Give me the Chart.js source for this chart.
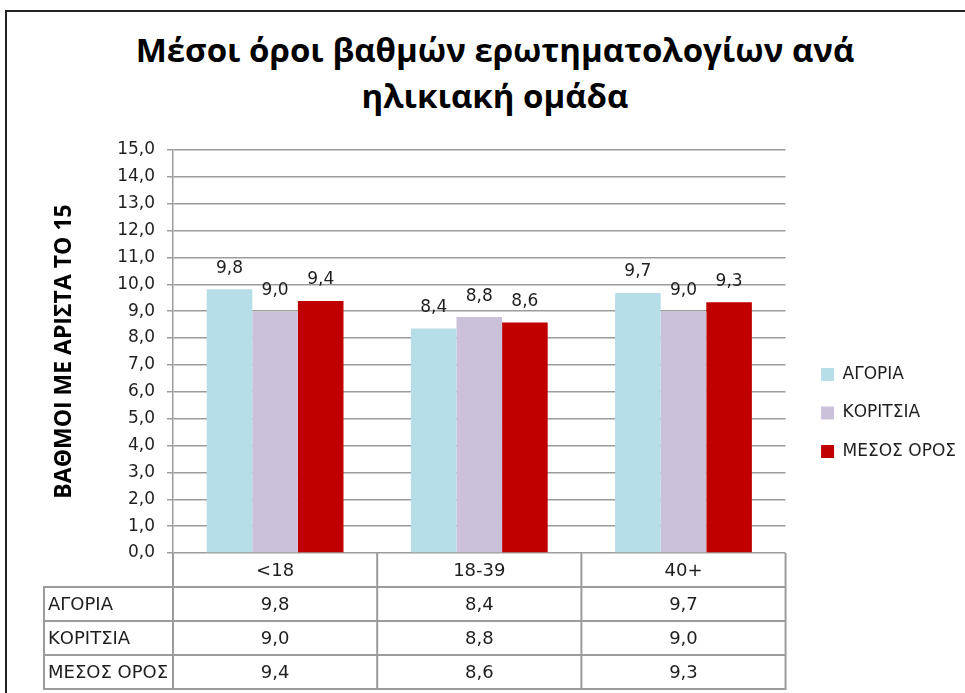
<!DOCTYPE html>
<html lang="el">
<head>
  <meta charset="UTF-8">
  <title>Μέσοι όροι βαθμών ερωτηματολογίων ανά ηλικιακή ομάδα</title>
  <script src="https://cdn.jsdelivr.net/npm/chart.js"></script>
  <style>
    body {
      margin: 0;
      background: #fff;
      width: 965px;
      height: 693px;
      overflow: hidden;
      position: relative;
      font-family: "DejaVu Sans", sans-serif;
    }
    #frame {
      position: absolute;
      left: 5px;
      top: 10px;
      width: 1000px;
      height: 700px;
      border-left: 2px solid #222;
      border-top: 2px solid #222;
    }
    #title {
      position: absolute;
      left: 0;
      top: 27px;
      width: 990px;
      text-align: center;
      font-family: "Open Sans", sans-serif;
      font-weight: 700;
      font-size: 33px;
      line-height: 46px;
      color: #000;
    }
    #chart-box {
      position: absolute;
      left: 0;
      top: 125px;
      width: 965px;
      height: 568px;
    }
  </style>
</head>
<body>
  <div id="frame"></div>
  <div id="title">Μέσοι όροι βαθμών ερωτηματολογίων ανά<br>ηλικιακή ομάδα</div>
  <div id="chart-box"><canvas id="grades-chart"></canvas></div>
  <script>
    // δεδομένα
    const categories = ['<18', '18-39', '40+'];
    const seriesNames = ['ΑΓΟΡΙΑ', 'ΚΟΡΙΤΣΙΑ', 'ΜΕΣΟΣ ΟΡΟΣ'];
    const boys = [9.82, 8.36, 9.68];
    const girls = [8.98, 8.78, 8.99];
    const average = [9.38, 8.58, 9.33];
    const yMin = 0;
    const yMax = 15;
    const yStep = 1;
    const yTitle = 'ΒΑΘΜΟΙ ΜΕ ΑΡΙΣΤΑ ΤΟ 15';

    const colors = ['#b7dde8', '#ccc1da', '#c00000'];
    const textColor = '#1e1e1e';
    const lineColor = '#9c9c9c';

    const fmt = v => v.toFixed(1).replace('.', ',');

    // τιμές πάνω από τις μπάρες
    const barLabels = {
      id: 'barLabels',
      afterDatasetsDraw(chart) {
        const ctx = chart.ctx;
        ctx.save();
        ctx.font = '17px "DejaVu Sans"';
        ctx.fillStyle = textColor;
        ctx.textAlign = 'center';
        ctx.textBaseline = 'middle';
        chart.data.datasets.forEach((ds, i) => {
          chart.getDatasetMeta(i).data.forEach((bar, j) => {
            ctx.fillText(fmt(ds.data[j]), bar.x, bar.y - 21);
          });
        });
        ctx.restore();
      }
    };

    // μετακίνηση του υπομνήματος λίγο δεξιά, όπως στο Excel
    const legendShift = {
      id: 'legendShift',
      afterLayout(chart) {
        if (chart.legend) {
          chart.legend.left += 14;
          chart.legend.right += 14;
        }
      }
    };

    // πίνακας δεδομένων κάτω από το γράφημα
    const dataTable = {
      id: 'dataTable',
      afterDraw(chart) {
        const {ctx, chartArea: area, scales: {x}} = chart;
        const rowH = 34;
        const colW = (area.right - area.left) / categories.length;
        const tableLeft = area.left - 129;
        const top = area.bottom;
        const bottom = top + rowH * (seriesNames.length + 1);

        ctx.save();
        ctx.strokeStyle = lineColor;
        ctx.lineWidth = 2;
        ctx.beginPath();
        for (let c = 0; c <= categories.length; c++) {
          const xx = area.left + c * colW;
          ctx.moveTo(xx, top);
          ctx.lineTo(xx, bottom);
        }
        ctx.moveTo(tableLeft, top + rowH);
        ctx.lineTo(tableLeft, bottom);
        for (let r = 1; r <= seriesNames.length + 1; r++) {
          ctx.moveTo(tableLeft - 1, top + r * rowH);
          ctx.lineTo(area.right + 1, top + r * rowH);
        }
        ctx.stroke();

        ctx.fillStyle = textColor;
        ctx.font = '18px "DejaVu Sans"';
        ctx.textBaseline = 'middle';
        ctx.textAlign = 'center';
        categories.forEach((cat, i) => {
          ctx.fillText(cat, x.getPixelForValue(i), top + rowH / 2 + 1);
        });
        chart.data.datasets.forEach((ds, r) => {
          const cy = top + rowH * (r + 1) + rowH / 2 + 1;
          ctx.textAlign = 'left';
          ctx.fillText(ds.label, tableLeft + 4, cy);
          ctx.textAlign = 'center';
          ds.data.forEach((v, i) => ctx.fillText(fmt(v), x.getPixelForValue(i), cy));
        });
        ctx.restore();
      }
    };

    new Chart(document.getElementById('grades-chart'), {
      type: 'bar',
      data: {
        labels: categories,
        datasets: [
          { label: seriesNames[0], data: boys, backgroundColor: colors[0] },
          { label: seriesNames[1], data: girls, backgroundColor: colors[1] },
          { label: seriesNames[2], data: average, backgroundColor: colors[2] }
        ]
      },
      options: {
        responsive: true,
        maintainAspectRatio: false,
        animation: false,
        datasets: { bar: { categoryPercentage: 0.67, barPercentage: 1, borderWidth: 0 } },
        layout: { padding: { left: 45, top: 25, right: 13, bottom: 17 } },
        plugins: {
          title: { display: false },
          tooltip: { enabled: false },
          legend: {
            position: 'right',
            align: 'center',
            labels: {
              boxWidth: 13,
              boxHeight: 13,
              padding: 21.5,
              color: textColor,
              font: { family: 'DejaVu Sans', size: 17 }
            }
          }
        },
        scales: {
          x: {
            display: true,
            grid: { display: false },
            border: { display: false },
            ticks: { display: false },
            afterFit(s) { s.height = 123; }
          },
          y: {
            min: yMin,
            max: yMax,
            ticks: {
              stepSize: yStep,
              padding: 12,
              color: textColor,
              font: { family: 'DejaVu Sans', size: 17 },
              callback: v => fmt(v)
            },
            grid: { color: lineColor, lineWidth: 1.5, tickLength: 6 },
            border: { display: true, color: lineColor, width: 1.5 },
            title: {
              display: true,
              text: yTitle,
              color: '#000',
              padding: { top: 6, bottom: 0 },
              font: { family: 'Open Sans', size: 23, weight: 'bold' }
            },
            afterFit(s) { s.width = 128; }
          }
        }
      },
      plugins: [barLabels, legendShift, dataTable]
    });
  </script>
</body>
</html>
